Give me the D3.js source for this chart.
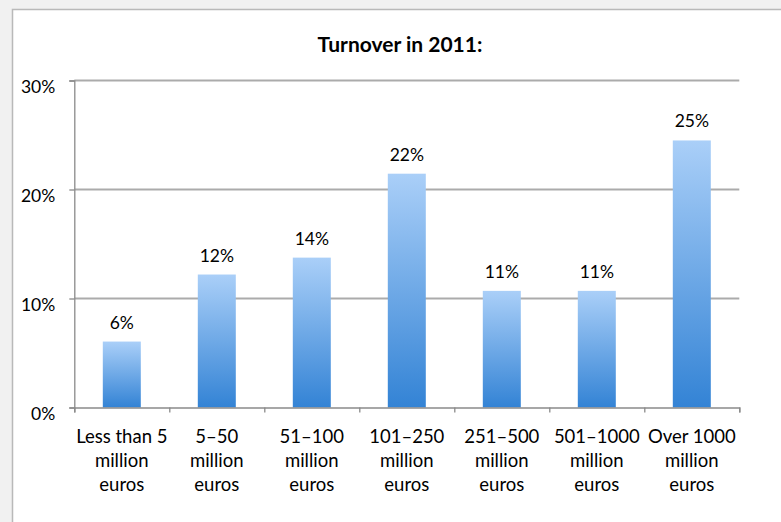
<!DOCTYPE html>
<html>
<head>
<meta charset="utf-8">
<script src="https://cdn.jsdelivr.net/npm/d3@7"></script>
<style>
  html, body { margin: 0; padding: 0; background: #f1f1f1; }
  svg { display: block; }
  text { font-family: Lato, "Open Sans", sans-serif; fill: #000; }
</style>
</head>
<body>
<svg id="chart" width="781" height="522"></svg>
<script>
const title = "Turnover in 2011:";
const categories = [
  ["Less than 5", "million", "euros"],
  ["5\u201350", "million", "euros"],
  ["51\u2013100", "million", "euros"],
  ["101\u2013250", "million", "euros"],
  ["251\u2013500", "million", "euros"],
  ["501\u20131000", "million", "euros"],
  ["Over 1000", "million", "euros"]
];
const values = [6.05, 12.2, 13.75, 21.45, 10.7, 10.7, 24.5];
const valueLabels = ["6%", "12%", "14%", "22%", "11%", "11%", "25%"];
const yTicks = [0, 10, 20, 30];

const svg = d3.select("#chart");

// frame
svg.append("rect").attr("x", 12.5).attr("y", 9.5).attr("width", 800).attr("height", 600)
  .attr("fill", "#fff").attr("stroke", "#b9b9b9").attr("stroke-width", 1.5);

const pLeft = 74.3, pRight = 739.3, pTop = 80.5, pBottom = 407.5;

const x = d3.scaleBand().domain(d3.range(categories.length)).range([pLeft, pRight])
  .paddingInner(0.6).paddingOuter(0.3);
const y = d3.scaleLinear().domain([0, 30]).range([pBottom, pTop]);

// gradient
const defs = svg.append("defs");
const grad = defs.append("linearGradient").attr("id", "barGrad")
  .attr("x1", 0).attr("y1", 0).attr("x2", 0).attr("y2", 1);
grad.append("stop").attr("offset", "0%").attr("stop-color", "#aacff8");
grad.append("stop").attr("offset", "100%").attr("stop-color", "#3383d5");

// gridlines
svg.append("g").selectAll("line").data(yTicks.filter(d => d > 0)).join("line")
  .attr("x1", pLeft).attr("x2", pRight)
  .attr("y1", d => y(d)).attr("y2", d => y(d))
  .attr("stroke", "#ababab").attr("stroke-width", 2);

// title
svg.append("text").attr("x", 400).attr("y", 52).attr("text-anchor", "middle")
  .attr("font-weight", "bold").attr("font-size", 21).text(title);

// bars
svg.append("g").selectAll("rect").data(values).join("rect")
  .attr("x", (d, i) => x(i)).attr("width", x.bandwidth())
  .attr("y", d => y(d)).attr("height", d => y(0) - y(d))
  .attr("fill", "url(#barGrad)");

// value labels
svg.append("g").selectAll("text").data(values).join("text")
  .attr("x", (d, i) => x(i) + x.bandwidth() / 2)
  .attr("y", d => y(d) - 13)
  .attr("text-anchor", "middle").attr("font-size", 17.5)
  .text((d, i) => valueLabels[i]);

// y axis
const yAxis = d3.axisLeft(y).tickValues(yTicks).tickSize(5).tickFormat(d => d + "%");
const yg = svg.append("g").attr("transform", `translate(${pLeft},0)`).call(yAxis);
yg.select(".domain").attr("stroke", "#8a8a8a").attr("stroke-width", 1.3);
yg.selectAll(".tick line").attr("stroke", "#8a8a8a").attr("stroke-width", 1.3);
yg.selectAll(".tick text").attr("font-size", 17.5).attr("x", -19).attr("dy", "11.5px")
  .style("font-family", "Lato, sans-serif").attr("fill", "#000");

// x axis
const bx = d3.scaleLinear().domain([0, categories.length]).range([pLeft, pRight]);
const xAxis = d3.axisBottom(bx).tickValues(d3.range(categories.length + 1)).tickSize(5).tickFormat("");
const xg = svg.append("g").attr("transform", `translate(0,${pBottom})`).call(xAxis);
xg.select(".domain").attr("stroke", "#8a8a8a").attr("stroke-width", 1.3);
xg.selectAll(".tick line").attr("stroke", "#8a8a8a").attr("stroke-width", 1.3);

// x labels
const lab = svg.append("g").selectAll("text").data(categories).join("text")
  .attr("x", (d, i) => x(i) + x.bandwidth() / 2)
  .attr("y", 443).attr("text-anchor", "middle").attr("font-size", 18.5);
lab.selectAll("tspan").data(d => d).join("tspan")
  .attr("x", function() { return this.parentNode.getAttribute("x"); })
  .attr("dy", (d, j) => j === 0 ? 0 : 24)
  .text(d => d);
</script>
</body>
</html>
